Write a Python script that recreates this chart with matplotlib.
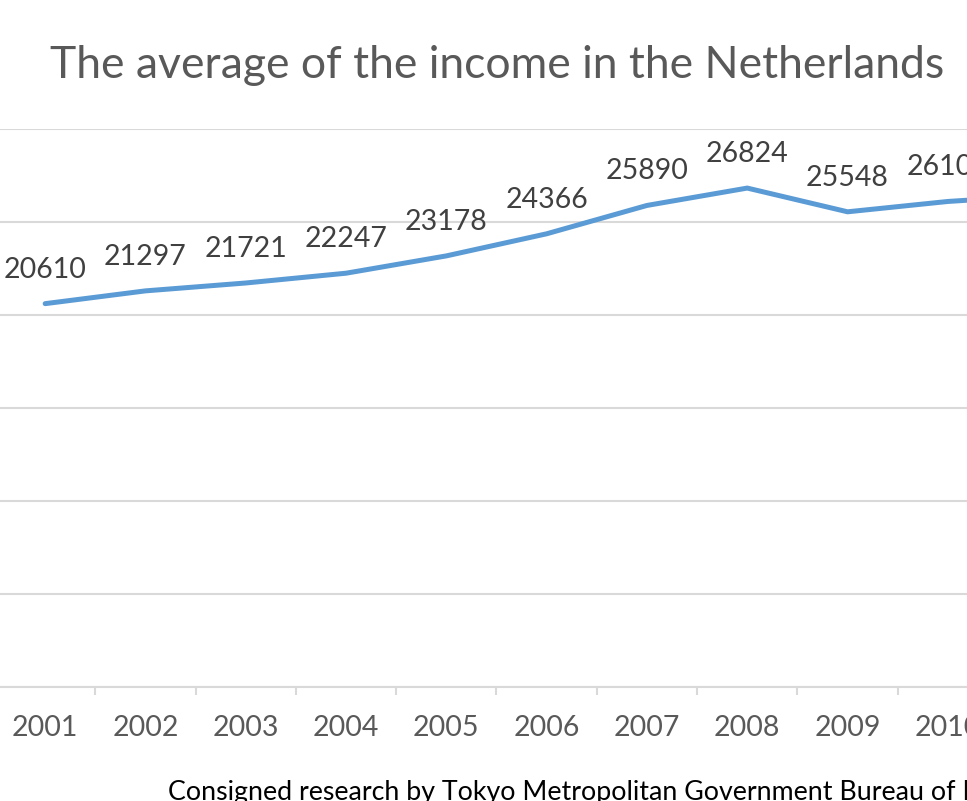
import matplotlib
matplotlib.use("Agg")
import matplotlib.pyplot as plt
from matplotlib.ticker import MultipleLocator, FixedLocator

plt.rcParams['font.family'] = ['Lato', 'DejaVu Sans']

years = ['2001', '2002', '2003', '2004', '2005', '2006', '2007', '2008', '2009', '2010', '2011']
income = [20610, 21297, 21721, 22247, 23178, 24366, 25890, 26824, 25548, 26104, 26450]
# only these labels are visible in the cropped picture
shown_labels = 10

title = 'The average of the income in the Netherlands'
source = 'Consigned research by Tokyo Metropolitan Government Bureau of Labour'

W, H = 967, 801
fig = plt.figure(figsize=(W / 100, H / 100), dpi=100)

# axes deliberately run past the figure edges (the reference is a crop)
left_px, step_px = -5, 100.3
ax_w = step_px * len(years)
ax = fig.add_axes([left_px / W, (H - 687) / H, ax_w / W, (687 - 129) / H])

x = list(range(len(years)))
ax.plot(x, income, color='#5B9BD5', lw=3.6, solid_capstyle='round', zorder=3)

for i in range(shown_labels):
    ax.annotate(str(income[i]), (x[i], income[i]), xytext=(0, 24.5), textcoords='offset points',
                ha='center', va='center', fontsize=20.5, color='#404040')

ax.set_xlim(-0.5, len(years) - 0.5)
ax.set_ylim(0, 30000)
ax.yaxis.set_major_locator(MultipleLocator(5000))
ax.grid(axis='y', color='#D9D9D9', lw=1.5)
ax.set_axisbelow(True)

ax.set_xticks(x)
ax.set_xticklabels(years, fontsize=20.5, color='#595959')
ax.xaxis.set_minor_locator(FixedLocator([i + 0.5 for i in x]))
ax.tick_params(axis='x', which='major', length=0, pad=20)
ax.tick_params(axis='x', which='minor', length=6, width=1.5, color='#D9D9D9')
ax.tick_params(axis='y', left=False, labelleft=False)

for s in ['top', 'left', 'right']:
    ax.spines[s].set_visible(False)
ax.spines['bottom'].set_color('#D9D9D9')
ax.spines['bottom'].set_linewidth(1.5)

fig.text(497 / W, 1 - 65 / H, title, ha='center', va='center', fontsize=32, color='#595959')
fig.text(168 / W, 1 - 780 / H, source, ha='left', va='top', fontsize=19.3, color='black')

fig.savefig('out.png', dpi=100)
